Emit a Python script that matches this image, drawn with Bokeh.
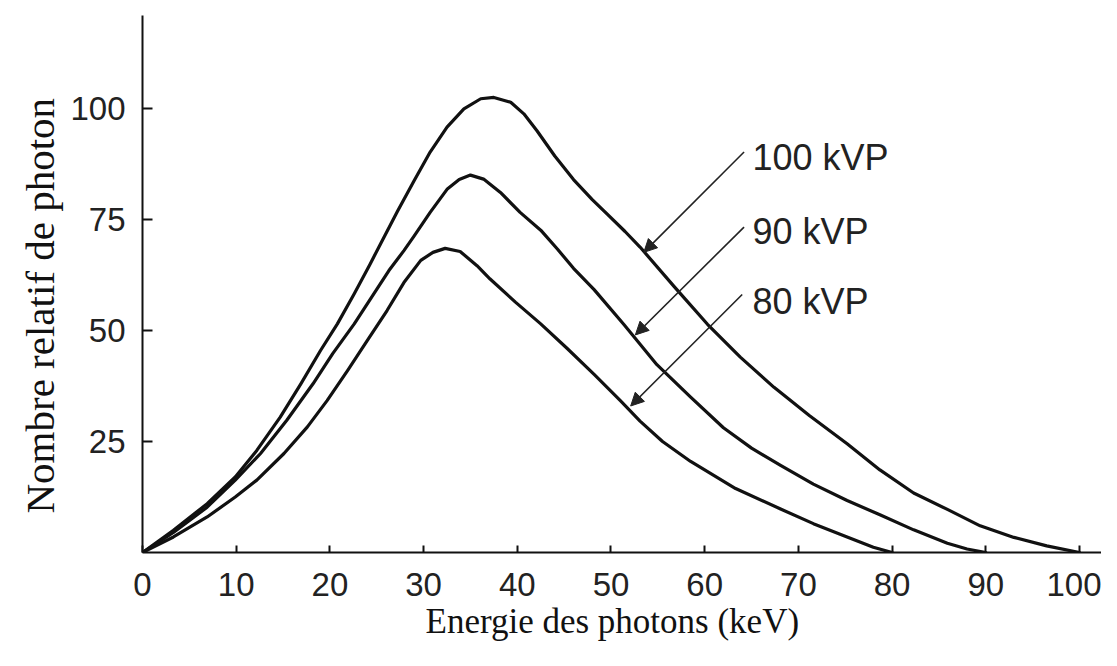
from bokeh.plotting import figure
from bokeh.models import Range1d, Label, Arrow, NormalHead, FixedTicker, Title
from bokeh.embed import file_html
from bokeh.resources import INLINE

# ---- data (relative photon count vs energy, keV) ----
energy_100 = [0, 3.3, 6.9, 9.9, 12.2, 14.7, 16.9, 19.0, 20.8, 22.6, 24.3, 25.4, 27.2,
              29.0, 30.7, 32.5, 34.3, 36.1, 37.5, 39.3, 40.7, 42.1, 44.0, 46.0, 48.0,
              49.6, 51.5, 53.1, 56.7, 60.3, 63.8, 67.4, 71.2, 75.2, 78.7, 82.3, 85.9,
              89.4, 93.0, 96.5, 100]
count_100 = [0, 5.0, 11.0, 17.0, 23.0, 30.5, 38.0, 45.5, 51.5, 58.3, 65.0, 69.5, 76.8,
             83.8, 90.2, 95.8, 99.9, 102.2, 102.5, 101.4, 98.8, 95.0, 89.3, 84.0, 79.5,
             76.2, 72.3, 68.8, 60.0, 51.4, 44.0, 37.2, 30.8, 24.5, 18.6, 13.4, 9.7,
             6.0, 3.4, 1.5, 0]

energy_90 = [0, 3.3, 6.9, 9.9, 12.6, 15.4, 18.2, 20.3, 22.6, 24.7, 26.3, 27.9, 29.0,
             30.7, 32.5, 33.8, 35.0, 36.4, 38.2, 40.3, 42.5, 44.3, 46.0, 48.2, 51.4,
             54.9, 58.5, 62.0, 65.0, 68.1, 71.6, 75.2, 78.7, 82.3, 85.9, 88.0, 90]
count_90 = [0, 4.5, 10.2, 16.3, 22.3, 29.8, 38.0, 44.8, 51.5, 58.3, 63.5, 68.0, 71.3,
            76.6, 81.8, 84.0, 85.0, 84.1, 81.1, 76.6, 72.6, 68.3, 64.0, 59.2, 51.3,
            42.3, 35.0, 28.1, 23.5, 19.6, 15.4, 11.7, 8.5, 5.1, 2.1, 0.8, 0]

energy_80 = [0, 3.3, 6.9, 9.9, 12.2, 15.1, 17.6, 19.7, 21.9, 24.0, 26.1, 27.9, 29.7,
             31.0, 32.3, 33.9, 35.7, 37.1, 39.8, 42.5, 45.3, 48.2, 51.0, 53.1, 55.5,
             58.5, 63.3, 68.1, 71.6, 75.2, 78.0, 80]
count_80 = [0, 3.5, 8.0, 12.5, 16.3, 22.3, 28.3, 34.2, 41.0, 47.8, 54.5, 60.8, 65.8,
            67.6, 68.5, 67.8, 64.6, 61.6, 56.4, 51.5, 46.0, 40.1, 34.2, 29.6, 25.0,
            20.5, 14.4, 9.8, 6.5, 3.5, 1.2, 0]

series_names = ["100 kVP", "90 kVP", "80 kVP"]
x_tick_values = [0, 10, 20, 30, 40, 50, 60, 70, 80, 90, 100]
y_tick_values = [25, 50, 75, 100]
x_title = "Energie des photons (keV)"
y_title = "Nombre relatif de photon"

# annotation layout (label anchor and arrow start/end in data units)
label_pos = [(65.1, 89.0), (65.1, 72.3), (65.1, 56.5)]
arrow_start = [(64.2, 90.2), (64.2, 73.3), (64.0, 58.1)]
arrow_end = [(53.5, 67.6), (52.6, 49.0), (52.1, 33.0)]

SANS = "Liberation Sans"
SERIF = "Liberation Serif"
INK = "#111111"

p = figure(width=1101, height=650,
           x_range=Range1d(0, 102.35), y_range=Range1d(0, 120.95),
           output_backend="svg", toolbar_location=None,
           min_border_left=142, min_border_right=0,
           min_border_top=15, min_border_bottom=98)

p.outline_line_color = None
p.background_fill_color = "white"
p.border_fill_color = "white"
p.xgrid.visible = False
p.ygrid.visible = False

for xs, ys in [(energy_100, count_100), (energy_90, count_90), (energy_80, count_80)]:
    p.line(xs, ys, line_color=INK, line_width=3.2, line_join="round", line_cap="round")

# axes
p.xaxis.ticker = FixedTicker(ticks=x_tick_values)
p.yaxis.ticker = FixedTicker(ticks=y_tick_values)
for ax in (p.xaxis, p.yaxis):
    ax.axis_line_color = INK
    ax.axis_line_width = 2
    ax.major_tick_line_color = INK
    ax.major_tick_line_width = 2
    ax.major_tick_out = 0
    ax.minor_tick_line_color = None
    ax.major_label_text_font = SANS
    ax.major_label_text_font_size = "33px"
    ax.major_label_text_color = "#222222"

p.xaxis.major_tick_in = 7
p.yaxis.major_tick_in = 10
p.xaxis.major_label_standoff = 20
p.yaxis.major_label_standoff = 17

# axis titles (side titles, offset like in the reference)
p.add_layout(Title(text=x_title, align="left", offset=283, standoff=2,
                   text_font=SERIF, text_font_size="35px",
                   text_font_style="normal", text_color=INK), "below")
p.add_layout(Title(text=y_title, align="left", offset=39, standoff=10,
                   text_font=SERIF, text_font_size="41px",
                   text_font_style="normal", text_color=INK), "left")

# series labels and arrows
for name, (lx, ly), (sx, sy), (ex, ey) in zip(series_names, label_pos, arrow_start, arrow_end):
    p.add_layout(Label(x=lx, y=ly, text=name, text_font=SANS,
                       text_font_size="36px", text_color="#222222",
                       text_align="left", text_baseline="middle"))
    p.add_layout(Arrow(x_start=sx, y_start=sy, x_end=ex, y_end=ey,
                       line_color="#222222", line_width=1.6,
                       end=NormalHead(size=13, fill_color="#222222",
                                      line_color="#222222", line_width=1)))

open("out.html", "w").write(file_html(p, INLINE))
